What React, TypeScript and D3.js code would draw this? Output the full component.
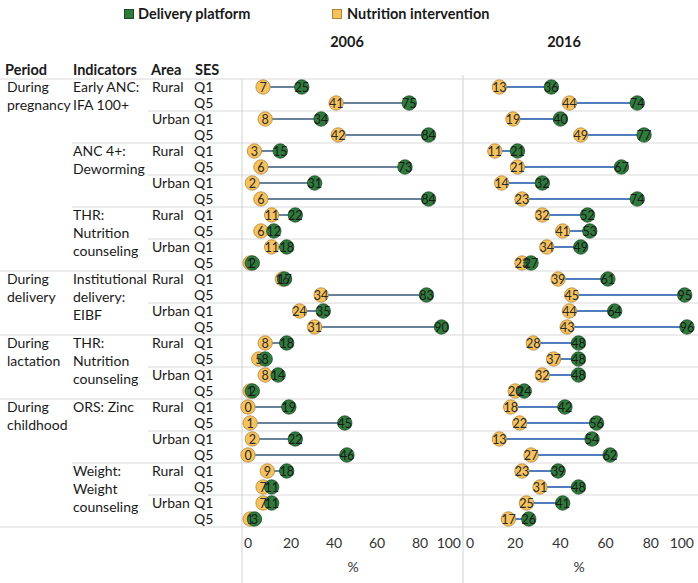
import React from "react";
import * as d3 from "d3";

const periodLabels = [["During", "pregnancy"], ["During", "delivery"], ["During", "lactation"], ["During", "childhood"]];
const periodIndicatorCounts = [3, 1, 1, 2];
const indicatorLabels = [
  ["Early ANC:", "IFA 100+"],
  ["ANC 4+:", "Deworming"],
  ["THR:", "Nutrition", "counseling"],
  ["Institutional", "delivery:", "EIBF"],
  ["THR:", "Nutrition", "counseling"],
  ["ORS: Zinc"],
  ["Weight:", "Weight", "counseling"],
];
const areas = ["Rural", "Urban"];
const sesGroups = ["Q1", "Q5"];
const years = ["2006", "2016"];
const ticks = [0, 20, 40, 60, 80, 100];
const seriesNames = ["Delivery platform", "Nutrition intervention"];

const delivery2006 = [25, 75, 34, 84, 15, 73, 31, 84, 22, 12, 18, 2, 17, 83, 35, 90, 18, 8, 14, 2, 19, 45, 22, 46, 18, 11, 11, 3];
const nutrition2006 = [7, 41, 8, 42, 3, 6, 2, 6, 11, 6, 11, 1, 16, 34, 24, 31, 8, 5, 8, 1, 0, 1, 2, 0, 9, 7, 7, 1];
const delivery2016 = [36, 74, 40, 77, 21, 67, 32, 74, 52, 53, 49, 27, 61, 95, 64, 96, 48, 48, 48, 24, 42, 56, 54, 62, 39, 48, 41, 26];
const nutrition2016 = [13, 44, 19, 49, 11, 21, 14, 23, 32, 41, 34, 23, 39, 45, 44, 43, 28, 37, 32, 20, 18, 22, 13, 27, 23, 31, 25, 17];

const GREEN = "#2f7b3c";
const GREEN_STROKE = "#1c4a24";
const YELLOW = "#f6c25e";
const YELLOW_STROKE = "#b08538";
const GRID = "#d9d9d9";
const FONT = "Lato, 'Open Sans', sans-serif";

export default function App() {
  const W = 698, H = 583;
  const top = 79, bottom = 527;
  const nRows = delivery2006.length;
  const y = d3.scaleBand<number>().domain(d3.range(nRows)).range([top, bottom]);
  const yc = (i: number) => (y(i) as number) + y.bandwidth() / 2;

  const panels = [
    { year: years[0], x: d3.scaleLinear().domain([0, 100]).range([248, 463]), del: delivery2006, nut: nutrition2006, line: "#67829a", titleX: 347, pctX: 353 },
    { year: years[1], x: d3.scaleLinear().domain([0, 100]).range([470, 696]), del: delivery2016, nut: nutrition2016, line: "#4f7dbd", titleX: 564, pctX: 579 },
  ];

  const gridLines: JSX.Element[] = [];
  gridLines.push(<line key="hdr" x1={0} x2={W} y1={top} y2={top} stroke={GRID} strokeWidth={1.2} />);
  let rowIdx = 0;
  let indIdx = 0;
  periodIndicatorCounts.forEach((cnt) => {
    for (let k = 0; k < cnt; k++) {
      const areaY = y(rowIdx + 2) as number;
      gridLines.push(<line key={`a${indIdx}`} x1={148} x2={W} y1={areaY} y2={areaY} stroke={GRID} strokeWidth={1.2} />);
      rowIdx += 4;
      const endY = rowIdx >= nRows ? bottom : (y(rowIdx) as number);
      const isPeriodEnd = k === cnt - 1;
      gridLines.push(<line key={`i${indIdx}`} x1={isPeriodEnd ? 0 : 72} x2={W} y1={endY} y2={endY} stroke={GRID} strokeWidth={1.2} />);
      indIdx++;
    }
  });

  const leftTexts: JSX.Element[] = [];
  let r = 0;
  let ii = 0;
  periodIndicatorCounts.forEach((cnt, p) => {
    const py = yc(r);
    periodLabels[p].forEach((t, j) => {
      leftTexts.push(<text key={`p${p}-${j}`} x={7} y={py + j * 18} dy="0.35em" fontSize={14}>{t}</text>);
    });
    for (let k = 0; k < cnt; k++) {
      const iy = yc(r);
      indicatorLabels[ii].forEach((t, j) => {
        leftTexts.push(<text key={`ind${ii}-${j}`} x={73} y={iy + j * 18} dy="0.35em" fontSize={14}>{t}</text>);
      });
      areas.forEach((a, ai) => {
        leftTexts.push(<text key={`ar${ii}-${ai}`} x={152} y={yc(r + ai * 2)} dy="0.35em" fontSize={14}>{a}</text>);
        sesGroups.forEach((s, si) => {
          leftTexts.push(<text key={`s${ii}-${ai}-${si}`} x={194} y={yc(r + ai * 2 + si)} dy="0.35em" fontSize={14}>{s}</text>);
        });
      });
      r += 4;
      ii++;
    }
  });

  const R = 7.2;

  return (
    <svg width={W} height={H} style={{ position: "absolute", left: 0, top: 0, background: "#fff" }} fontFamily={FONT} fill="#1a1a1a">
      <rect x={0} y={0} width={W} height={H} fill="#fff" />
      <rect x={124.5} y={9.5} width={9} height={9} fill={GREEN} stroke={GREEN_STROKE} />
      <text x={138} y={14} dy="0.35em" fontSize={14.5} fontWeight="bold">{seriesNames[0]}</text>
      <rect x={332.5} y={9.5} width={9} height={9} fill={YELLOW} stroke={YELLOW_STROKE} />
      <text x={347} y={14} dy="0.35em" fontSize={14.5} fontWeight="bold">{seriesNames[1]}</text>

      {panels.map((pn) => (
        <text key={`t${pn.year}`} x={pn.titleX} y={42} dy="0.35em" fontSize={14.5} fontWeight="bold" textAnchor="middle">{pn.year}</text>
      ))}

      <text x={5} y={70} dy="0.35em" fontSize={14.5} fontWeight="bold">Period</text>
      <text x={73} y={70} dy="0.35em" fontSize={14.5} fontWeight="bold">Indicators</text>
      <text x={151} y={70} dy="0.35em" fontSize={14.5} fontWeight="bold">Area</text>
      <text x={195} y={70} dy="0.35em" fontSize={14.5} fontWeight="bold">SES</text>

      {gridLines}
      <line x1={242} x2={242} y1={top} y2={H} stroke={GRID} strokeWidth={1.2} />
      <line x1={463} x2={463} y1={top - 4} y2={H} stroke={GRID} strokeWidth={1.2} />

      {leftTexts}

      {panels.map((pn) => (
        <g key={pn.year}>
          {pn.del.map((d, i) => (
            <line key={`l${i}`} x1={pn.x(pn.nut[i])} x2={pn.x(d)} y1={yc(i)} y2={yc(i)} stroke={pn.line} strokeWidth={2} />
          ))}
          {pn.nut.map((v, i) => (
            <circle key={`n${i}`} cx={pn.x(v)} cy={yc(i)} r={R} fill={YELLOW} stroke={YELLOW_STROKE} strokeWidth={0.8} />
          ))}
          {pn.del.map((v, i) => (
            <circle key={`d${i}`} cx={pn.x(v)} cy={yc(i)} r={R} fill={GREEN} stroke={GREEN_STROKE} strokeWidth={0.8} />
          ))}
          {pn.nut.map((v, i) => (
            <text key={`nt${i}`} x={pn.x(v)} y={yc(i)} dy="0.36em" fontSize={12.5} textAnchor="middle" fill="#2a2a2a">{v}</text>
          ))}
          {pn.del.map((v, i) => (
            <text key={`dt${i}`} x={pn.x(v)} y={yc(i)} dy="0.36em" fontSize={12.5} textAnchor="middle" fill="#1a1a1a">{v}</text>
          ))}
          {ticks.map((t) => (
            <text key={`tk${t}`} x={t === 100 ? pn.x(t) - 2 : pn.x(t)} y={543} dy="0.35em" fontSize={14} textAnchor={t === 100 ? "end" : "middle"} fill="#333">{t}</text>
          ))}
          <text x={pn.pctX} y={567} dy="0.35em" fontSize={14} textAnchor="middle" fill="#333">%</text>
        </g>
      ))}
    </svg>
  );
}
